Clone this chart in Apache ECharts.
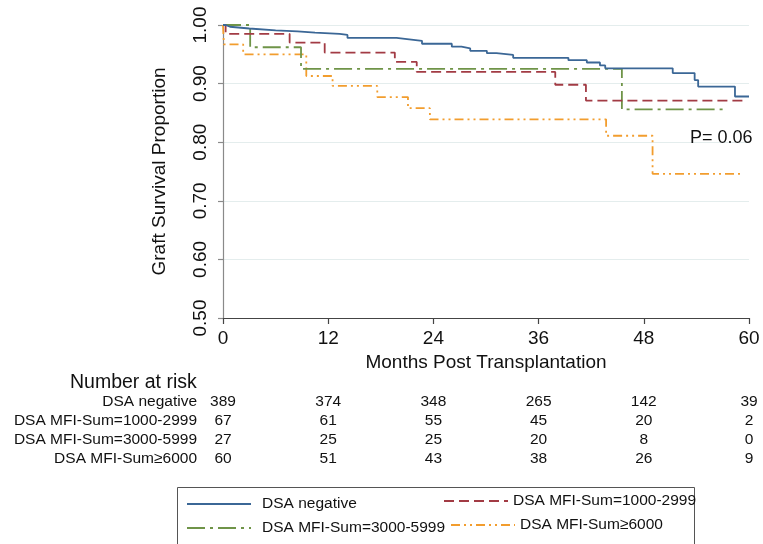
<!DOCTYPE html>
<html>
<head>
<meta charset="utf-8">
<script src="https://cdn.jsdelivr.net/npm/echarts@6/dist/echarts.min.js"></script>
<style>
  html, body { margin: 0; padding: 0; background: #ffffff; }
  #chart { width: 763px; height: 544px; }
</style>
</head>
<body>
<div id="chart"></div>
<script>
// Kaplan-Meier graft survival by DSA MFI-Sum group: [month, survival proportion]
const seriesNames = ['DSA negative', 'DSA MFI-Sum=1000-2999', 'DSA MFI-Sum=3000-5999', 'DSA MFI-Sum\u22656000'];

const survNegative = [
  [0, 1.0], [0.3, 0.997], [0.8, 0.994], [3.0, 0.991], [6.0, 0.989], [8.5, 0.987],
  [10.5, 0.985], [13.3, 0.983], [14.2, 0.978], [19.8, 0.976], [21.0, 0.973],
  [22.7, 0.968], [26.1, 0.963], [27.2, 0.960], [28.2, 0.956], [30.1, 0.952],
  [31.2, 0.949], [33.1, 0.944], [39.4, 0.940], [41.5, 0.936], [43.0, 0.931],
  [43.6, 0.926], [51.3, 0.918], [53.8, 0.906], [54.2, 0.895], [58.4, 0.878], [60, 0.878]
];
const surv1000 = [
  [0, 1.0], [0.3, 0.985], [7.6, 0.970], [11.6, 0.953], [19.6, 0.937], [22.1, 0.920],
  [37.9, 0.898], [41.4, 0.871], [59.5, 0.871]
];
const surv3000 = [
  [0, 1.0], [3.1, 0.962], [8.9, 0.925], [45.5, 0.856], [57.0, 0.856]
];
const surv6000 = [
  [0, 1.0], [0.1, 0.967], [2.3, 0.950], [9.5, 0.913], [12.5, 0.896], [17.6, 0.877],
  [21.1, 0.858], [23.6, 0.839], [43.7, 0.811], [49.0, 0.746], [59.3, 0.746]
];

// Number at risk table
const riskMonths = [0, 12, 24, 36, 48, 60];
const riskNegative = [389, 374, 348, 265, 142, 39];
const risk1000 = [67, 61, 55, 45, 20, 2];
const risk3000 = [27, 25, 25, 20, 8, 0];
const risk6000 = [60, 51, 43, 38, 26, 9];

const pValueText = 'P= 0.06';

const FONT = '"Liberation Sans", Arial, Helvetica, sans-serif';
const colors = ['#3b6796', '#a23b44', '#6f9448', '#f29d2e'];
const dashes = ['solid', [10, 5], [18, 5, 3, 5], [9, 4, 2, 4, 2, 4]];
const curves = [survNegative, surv1000, surv3000, surv6000];

const chart = echarts.init(document.getElementById('chart'), null, { renderer: 'canvas' });

const series = curves.map((data, i) => ({
  name: seriesNames[i],
  type: 'line',
  step: 'end',
  data: data,
  symbol: 'none',
  clip: false,
  z: 10 - i,
  lineStyle: { color: colors[i], width: 1.8, type: dashes[i] },
  itemStyle: { color: colors[i] },
  emphasis: { disabled: true }
}));

// one legend block per entry, laid out in two rows
const legendSpots = [
  { left: 186, top: 496 },
  { left: 443, top: 493 },
  { left: 186, top: 520 },
  { left: 450, top: 517 }
];
const legends = seriesNames.map((n, i) => ({
  data: [n],
  left: legendSpots[i].left,
  top: legendSpots[i].top,
  padding: 0,
  itemWidth: 64,
  itemHeight: 14,
  selectedMode: false,
  itemStyle: { opacity: 0 },
  textStyle: { fontFamily: FONT, fontSize: 15.5, color: '#111', padding: [0, 0, 0, i % 2 === 0 ? 6 : 0] }
}));

chart.setOption({
  animation: false,
  backgroundColor: '#ffffff',
  grid: { left: 223, right: 14, top: 25, bottom: 226 },
  legend: legends,
  xAxis: {
    type: 'value',
    min: 0, max: 60, interval: 12,
    name: 'Months Post Transplantation',
    nameLocation: 'middle',
    nameGap: 25,
    nameTextStyle: { fontFamily: FONT, fontSize: 19, color: '#111' },
    axisLine: { show: true, lineStyle: { color: '#444', width: 1.2 } },
    axisTick: { show: true, length: 6, lineStyle: { color: '#444', width: 1.2 } },
    axisLabel: { fontFamily: FONT, fontSize: 19, color: '#111', margin: 11 },
    splitLine: { show: false }
  },
  yAxis: {
    type: 'value',
    min: 0.5, max: 1.0, interval: 0.1,
    name: 'Graft Survival Proportion',
    nameLocation: 'middle',
    nameRotate: 90,
    nameGap: 54,
    nameTextStyle: { fontFamily: FONT, fontSize: 19, color: '#111' },
    axisLine: { show: true, lineStyle: { color: '#8a8a8a', width: 1.2 } },
    axisTick: { show: true, length: 5, lineStyle: { color: '#8a8a8a', width: 1.2 } },
    axisLabel: {
      fontFamily: FONT, fontSize: 19, color: '#111', rotate: 90, margin: 13,
      formatter: v => v.toFixed(2)
    },
    splitLine: { show: true, lineStyle: { color: '#e4eded', width: 1.2 } }
  },
  series: series
});

// risk table, legend frame and p-value annotation
const graphics = [];
graphics.push({
  type: 'rect', silent: true, z: 0,
  shape: { x: 177.5, y: 487.5, width: 517, height: 80 },
  style: { fill: 'none', stroke: '#555', lineWidth: 1 }
});
graphics.push({
  type: 'text', silent: true,
  style: { text: pValueText, x: 690, y: 138, fontFamily: FONT, fontSize: 18, fill: '#111',
           align: 'left', verticalAlign: 'middle', textAlign: 'left', textVerticalAlign: 'middle' }
});
graphics.push({
  type: 'text', silent: true,
  style: { text: 'Number at risk', x: 70, y: 383, fontFamily: FONT, fontSize: 19.5, fill: '#111',
           align: 'left', verticalAlign: 'middle', textAlign: 'left', textVerticalAlign: 'middle' }
});
const riskRows = [riskNegative, risk1000, risk3000, risk6000];
const rowY = [402, 421, 440, 459];
riskRows.forEach((row, r) => {
  graphics.push({
    type: 'text', silent: true,
    style: { text: seriesNames[r], x: 197, y: rowY[r], fontFamily: FONT, fontSize: 15.5, fill: '#111',
             align: 'right', verticalAlign: 'middle', textAlign: 'right', textVerticalAlign: 'middle' }
  });
  row.forEach((n, c) => {
    const px = chart.convertToPixel({ xAxisIndex: 0 }, riskMonths[c]);
    graphics.push({
      type: 'text', silent: true,
      style: { text: String(n), x: px, y: rowY[r], fontFamily: FONT, fontSize: 15.5, fill: '#111',
               align: 'center', verticalAlign: 'middle', textAlign: 'center', textVerticalAlign: 'middle' }
    });
  });
});
chart.setOption({ graphic: graphics });
</script>
</body>
</html>
